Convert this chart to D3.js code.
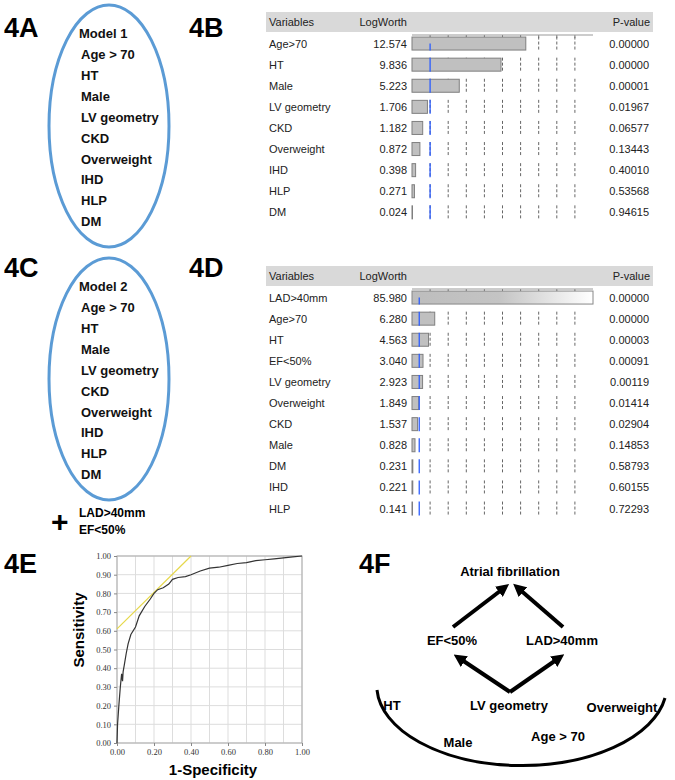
<!DOCTYPE html>
<html>
<head>
<meta charset="utf-8">
<script src="https://cdn.jsdelivr.net/npm/d3@7"></script>
<style>
  body { margin: 0; background: #fff; }
  svg { display: block; }
</style>
</head>
<body>
<div id="chart"></div>
<script>
// model variable lists (ovals)
var model1Vars = ["Age > 70", "HT", "Male", "LV geometry", "CKD", "Overweight", "IHD", "HLP", "DM"];
var model2Extra = ["LAD>40mm", "EF<50%"];

// 4B effect summary
var varsB = ["Age>70", "HT", "Male", "LV geometry", "CKD", "Overweight", "IHD", "HLP", "DM"];
var logworthB = [12.574, 9.836, 5.223, 1.706, 1.182, 0.872, 0.398, 0.271, 0.024];
var pvalB = ["0.00000", "0.00000", "0.00001", "0.01967", "0.06577", "0.13443", "0.40010", "0.53568", "0.94615"];

// 4D effect summary
var varsD = ["LAD>40mm", "Age>70", "HT", "EF<50%", "LV geometry", "Overweight", "CKD", "Male", "DM", "IHD", "HLP"];
var logworthD = [85.980, 6.280, 4.563, 3.040, 2.923, 1.849, 1.537, 0.828, 0.231, 0.221, 0.141];
var pvalD = ["0.00000", "0.00000", "0.00003", "0.00091", "0.00119", "0.01414", "0.02904", "0.14853", "0.58793", "0.60155", "0.72293"];

// 4E ROC curve
var rocFpr = [0, 0.003, 0.01, 0.018, 0.025, 0.03, 0.033, 0.04, 0.05, 0.06, 0.075, 0.1, 0.12, 0.15, 0.18, 0.2, 0.22, 0.25, 0.28, 0.3, 0.33, 0.37, 0.4, 0.45, 0.5, 0.55, 0.6, 0.65, 0.7, 0.75, 0.8, 0.85, 0.9, 0.95, 1];
var rocTpr = [0, 0.1, 0.2, 0.3, 0.37, 0.33, 0.38, 0.42, 0.48, 0.53, 0.58, 0.62, 0.68, 0.73, 0.77, 0.8, 0.82, 0.83, 0.85, 0.875, 0.885, 0.89, 0.9, 0.92, 0.935, 0.94, 0.95, 0.96, 0.965, 0.975, 0.98, 0.985, 0.99, 0.995, 1];
var tangentX = [0, 0.4];
var tangentY = [0.61, 1.0];
var rocTicks = [0, 0.1, 0.2, 0.3, 0.4, 0.5, 0.6, 0.7, 0.8, 0.9, 1];

var W = 675, H = 780;
var svg = d3.select("#chart").append("svg").attr("width", W).attr("height", H);
var defs = svg.append("defs");

var font = "Liberation Sans, Arial, sans-serif";
var blue = "#5b9bd5";

// panel letters
var letters = [["4A", 4, 37], ["4B", 189, 37], ["4C", 4, 277], ["4D", 189, 277], ["4E", 4, 573], ["4F", 359, 573]];
svg.selectAll("text.letter").data(letters).enter().append("text")
  .attr("class", "letter")
  .attr("x", function(d) { return d[1]; })
  .attr("y", function(d) { return d[2]; })
  .attr("font-family", font).attr("font-weight", "bold").attr("font-size", 27)
  .text(function(d) { return d[0]; });

// ---------- ovals (4A, 4C) ----------
function drawOval(cy, title) {
  svg.append("ellipse").attr("cx", 109).attr("cy", cy).attr("rx", 60).attr("ry", 121)
    .attr("fill", "none").attr("stroke", blue).attr("stroke-width", 3);
  var g = svg.append("g").attr("font-family", font).attr("font-weight", "bold")
    .attr("font-size", 13).attr("fill", "#111");
  var top = cy - 93;
  g.append("text").attr("x", 79).attr("y", top + 5).text(title);
  g.selectAll("text.v").data(model1Vars).enter().append("text").attr("class", "v")
    .attr("x", 81).attr("y", function(d, i) { return top + 26 + i * 20.9; })
    .text(function(d) { return d; });
}
drawOval(126, "Model 1");
drawOval(379, "Model 2");

svg.append("text").attr("x", 51).attr("y", 532).attr("font-family", font)
  .attr("font-weight", "bold").attr("font-size", 30).text("+");
svg.selectAll("text.extra").data(model2Extra).enter().append("text").attr("class", "extra")
  .attr("x", 79).attr("y", function(d, i) { return 517 + i * 17; })
  .attr("font-family", font).attr("font-weight", "bold").attr("font-size", 12)
  .text(function(d) { return d; });

// ---------- effect summary tables (4B, 4D) ----------
var grad = defs.append("linearGradient").attr("id", "fade").attr("x1", "0%").attr("x2", "100%");
grad.append("stop").attr("offset", "0%").attr("stop-color", "#bdbdbd");
grad.append("stop").attr("offset", "48%").attr("stop-color", "#c4c4c4");
grad.append("stop").attr("offset", "100%").attr("stop-color", "#ffffff");

function drawTable(headTop, vars, lw, pv, xMax, dashes) {
  var g = svg.append("g").attr("font-family", font).attr("font-size", 11).attr("fill", "#222");
  var y = d3.scaleBand().domain(vars).range([headTop + 21, headTop + 21 + vars.length * 21.1]);
  var x = d3.scaleLinear().domain([0, xMax]).range([412, 593]);

  g.append("rect").attr("x", 266).attr("y", headTop).attr("width", 387).attr("height", 20)
    .attr("fill", "#d9d9d9");
  g.append("text").attr("x", 269).attr("y", headTop + 14).text("Variables");
  g.append("text").attr("x", 407).attr("y", headTop + 14).attr("text-anchor", "end").text("LogWorth");
  g.append("text").attr("x", 650).attr("y", headTop + 14).attr("text-anchor", "end").text("P-value");

  var rowTop = y(vars[0]) + 2;
  // frame top and ticks
  g.append("line").attr("x1", x(0)).attr("x2", x(xMax)).attr("y1", rowTop).attr("y2", rowTop)
    .attr("stroke", "#999");
  g.selectAll("line.tick").data(dashes).enter().append("line").attr("class", "tick")
    .attr("x1", x).attr("x2", x).attr("y1", rowTop).attr("y2", rowTop + 3).attr("stroke", "#888");

  var rows = g.selectAll("g.row").data(vars).enter().append("g").attr("class", "row")
    .attr("transform", function(d) { return "translate(0," + (y(d) + y.bandwidth() / 2) + ")"; });

  rows.each(function(d, i) {
    var r = d3.select(this);
    r.selectAll("line.dash").data(dashes).enter().append("line").attr("class", "dash")
      .attr("x1", x).attr("x2", x).attr("y1", -7).attr("y2", 7)
      .attr("stroke", "#666").attr("stroke-dasharray", "3,2");
    var v = Math.min(lw[i], xMax);
    r.append("rect").attr("x", x(0)).attr("y", -6.5)
      .attr("width", Math.max(x(v) - x(0), 0.5)).attr("height", 13)
      .attr("fill", lw[i] > xMax ? "url(#fade)" : "#c0c0c0")
      .attr("stroke", lw[i] > xMax ? "#888" : "#7f7f7f").attr("stroke-width", 1);
    r.append("line").attr("x1", x(2)).attr("x2", x(2))
      .attr("y1", i === 0 ? 0 : -7).attr("y2", 7)
      .attr("stroke", "#2a5cff").attr("stroke-width", 1.3);
    r.append("text").attr("x", 269).attr("y", 4).text(d);
    r.append("text").attr("x", 407).attr("y", 4).attr("text-anchor", "end").text(lw[i].toFixed(3));
    r.append("text").attr("x", 649).attr("y", 4).attr("text-anchor", "end").text(pv[i]);
  });
}
drawTable(12, varsB, logworthB, pvalB, 20, d3.range(2, 20, 2));
drawTable(266, varsD, logworthD, pvalD, 50, d3.range(5, 50, 5));

// ---------- ROC curve (4E) ----------
var rx = d3.scaleLinear().domain([0, 1]).range([117, 302]);
var ry = d3.scaleLinear().domain([0, 1]).range([743, 556]);
var roc = svg.append("g");
roc.selectAll("line.gx").data(rocTicks).enter().append("line").attr("class", "gx")
  .attr("x1", rx).attr("x2", rx).attr("y1", ry(0)).attr("y2", ry(1)).attr("stroke", "#ddd");
roc.selectAll("line.gy").data(rocTicks).enter().append("line").attr("class", "gy")
  .attr("y1", ry).attr("y2", ry).attr("x1", rx(0)).attr("x2", rx(1)).attr("stroke", "#ddd");
roc.append("rect").attr("x", rx(0)).attr("y", ry(1)).attr("width", rx(1) - rx(0))
  .attr("height", ry(0) - ry(1)).attr("fill", "none").attr("stroke", "#aaa");

var yAxis = d3.axisLeft(ry).tickValues(rocTicks).tickFormat(d3.format(".2f")).tickSize(3);
var xAxis = d3.axisBottom(rx).tickValues([0, 0.2, 0.4, 0.6, 0.8, 1]).tickFormat(d3.format(".2f")).tickSize(3);
roc.append("g").attr("transform", "translate(" + rx(0) + ",0)").call(yAxis)
  .call(function(a) { a.select(".domain").remove(); })
  .selectAll("text").attr("font-family", "Liberation Serif, serif").attr("font-size", 8.5).attr("fill", "#333");
roc.append("g").attr("transform", "translate(0," + ry(0) + ")").call(xAxis)
  .call(function(a) { a.select(".domain").remove(); })
  .selectAll("text").attr("font-family", "Liberation Serif, serif").attr("font-size", 8.5).attr("fill", "#333");
roc.selectAll(".tick line").attr("stroke", "#888");

roc.append("path").datum(d3.range(tangentX.length))
  .attr("fill", "none").attr("stroke", "#e6d84a").attr("stroke-width", 1.2)
  .attr("d", d3.line().x(function(i) { return rx(tangentX[i]); }).y(function(i) { return ry(tangentY[i]); }));
roc.append("path").datum(d3.range(rocFpr.length))
  .attr("fill", "none").attr("stroke", "#333").attr("stroke-width", 1.2)
  .attr("d", d3.line().x(function(i) { return rx(rocFpr[i]); }).y(function(i) { return ry(rocTpr[i]); }));

roc.append("text").attr("x", 213).attr("y", 775).attr("text-anchor", "middle")
  .attr("font-family", font).attr("font-weight", "bold").attr("font-size", 15).text("1-Specificity");
roc.append("text").attr("transform", "translate(84,630) rotate(-90)").attr("text-anchor", "middle")
  .attr("font-family", font).attr("font-weight", "bold").attr("font-size", 15).text("Sensitivity");

// ---------- diagram (4F) ----------
defs.append("marker").attr("id", "arrow").attr("viewBox", "0 0 10 10")
  .attr("refX", 5).attr("refY", 5).attr("markerWidth", 3.2).attr("markerHeight", 3.2)
  .attr("orient", "auto").append("path").attr("d", "M0,0 L10,5 L0,10 Z").attr("fill", "#000");

var arrows = [[453, 627, 504, 588], [563, 627, 518, 588], [510, 692, 459, 658], [510, 692, 559, 658]];
var fg = svg.append("g");
fg.selectAll("line.arr").data(arrows).enter().append("line").attr("class", "arr")
  .attr("x1", function(d) { return d[0]; }).attr("y1", function(d) { return d[1]; })
  .attr("x2", function(d) { return d[2]; }).attr("y2", function(d) { return d[3]; })
  .attr("stroke", "#000").attr("stroke-width", 4).attr("marker-end", "url(#arrow)");

fg.append("path").attr("d", "M377,690 A145,80 0 0 0 665,698")
  .attr("fill", "none").attr("stroke", "#000").attr("stroke-width", 3);

var fLabels = [["Atrial fibrillation", 510, 576], ["EF<50%", 452, 645], ["LAD>40mm", 562, 645],
  ["HT", 392, 710], ["LV geometry", 509, 710], ["Overweight", 622, 712],
  ["Male", 458, 747], ["Age > 70", 558, 741]];
fg.selectAll("text.fl").data(fLabels).enter().append("text").attr("class", "fl")
  .attr("x", function(d) { return d[1]; }).attr("y", function(d) { return d[2]; })
  .attr("text-anchor", "middle").attr("font-family", font).attr("font-weight", "bold")
  .attr("font-size", 13).text(function(d) { return d[0]; });
</script>
</body>
</html>
